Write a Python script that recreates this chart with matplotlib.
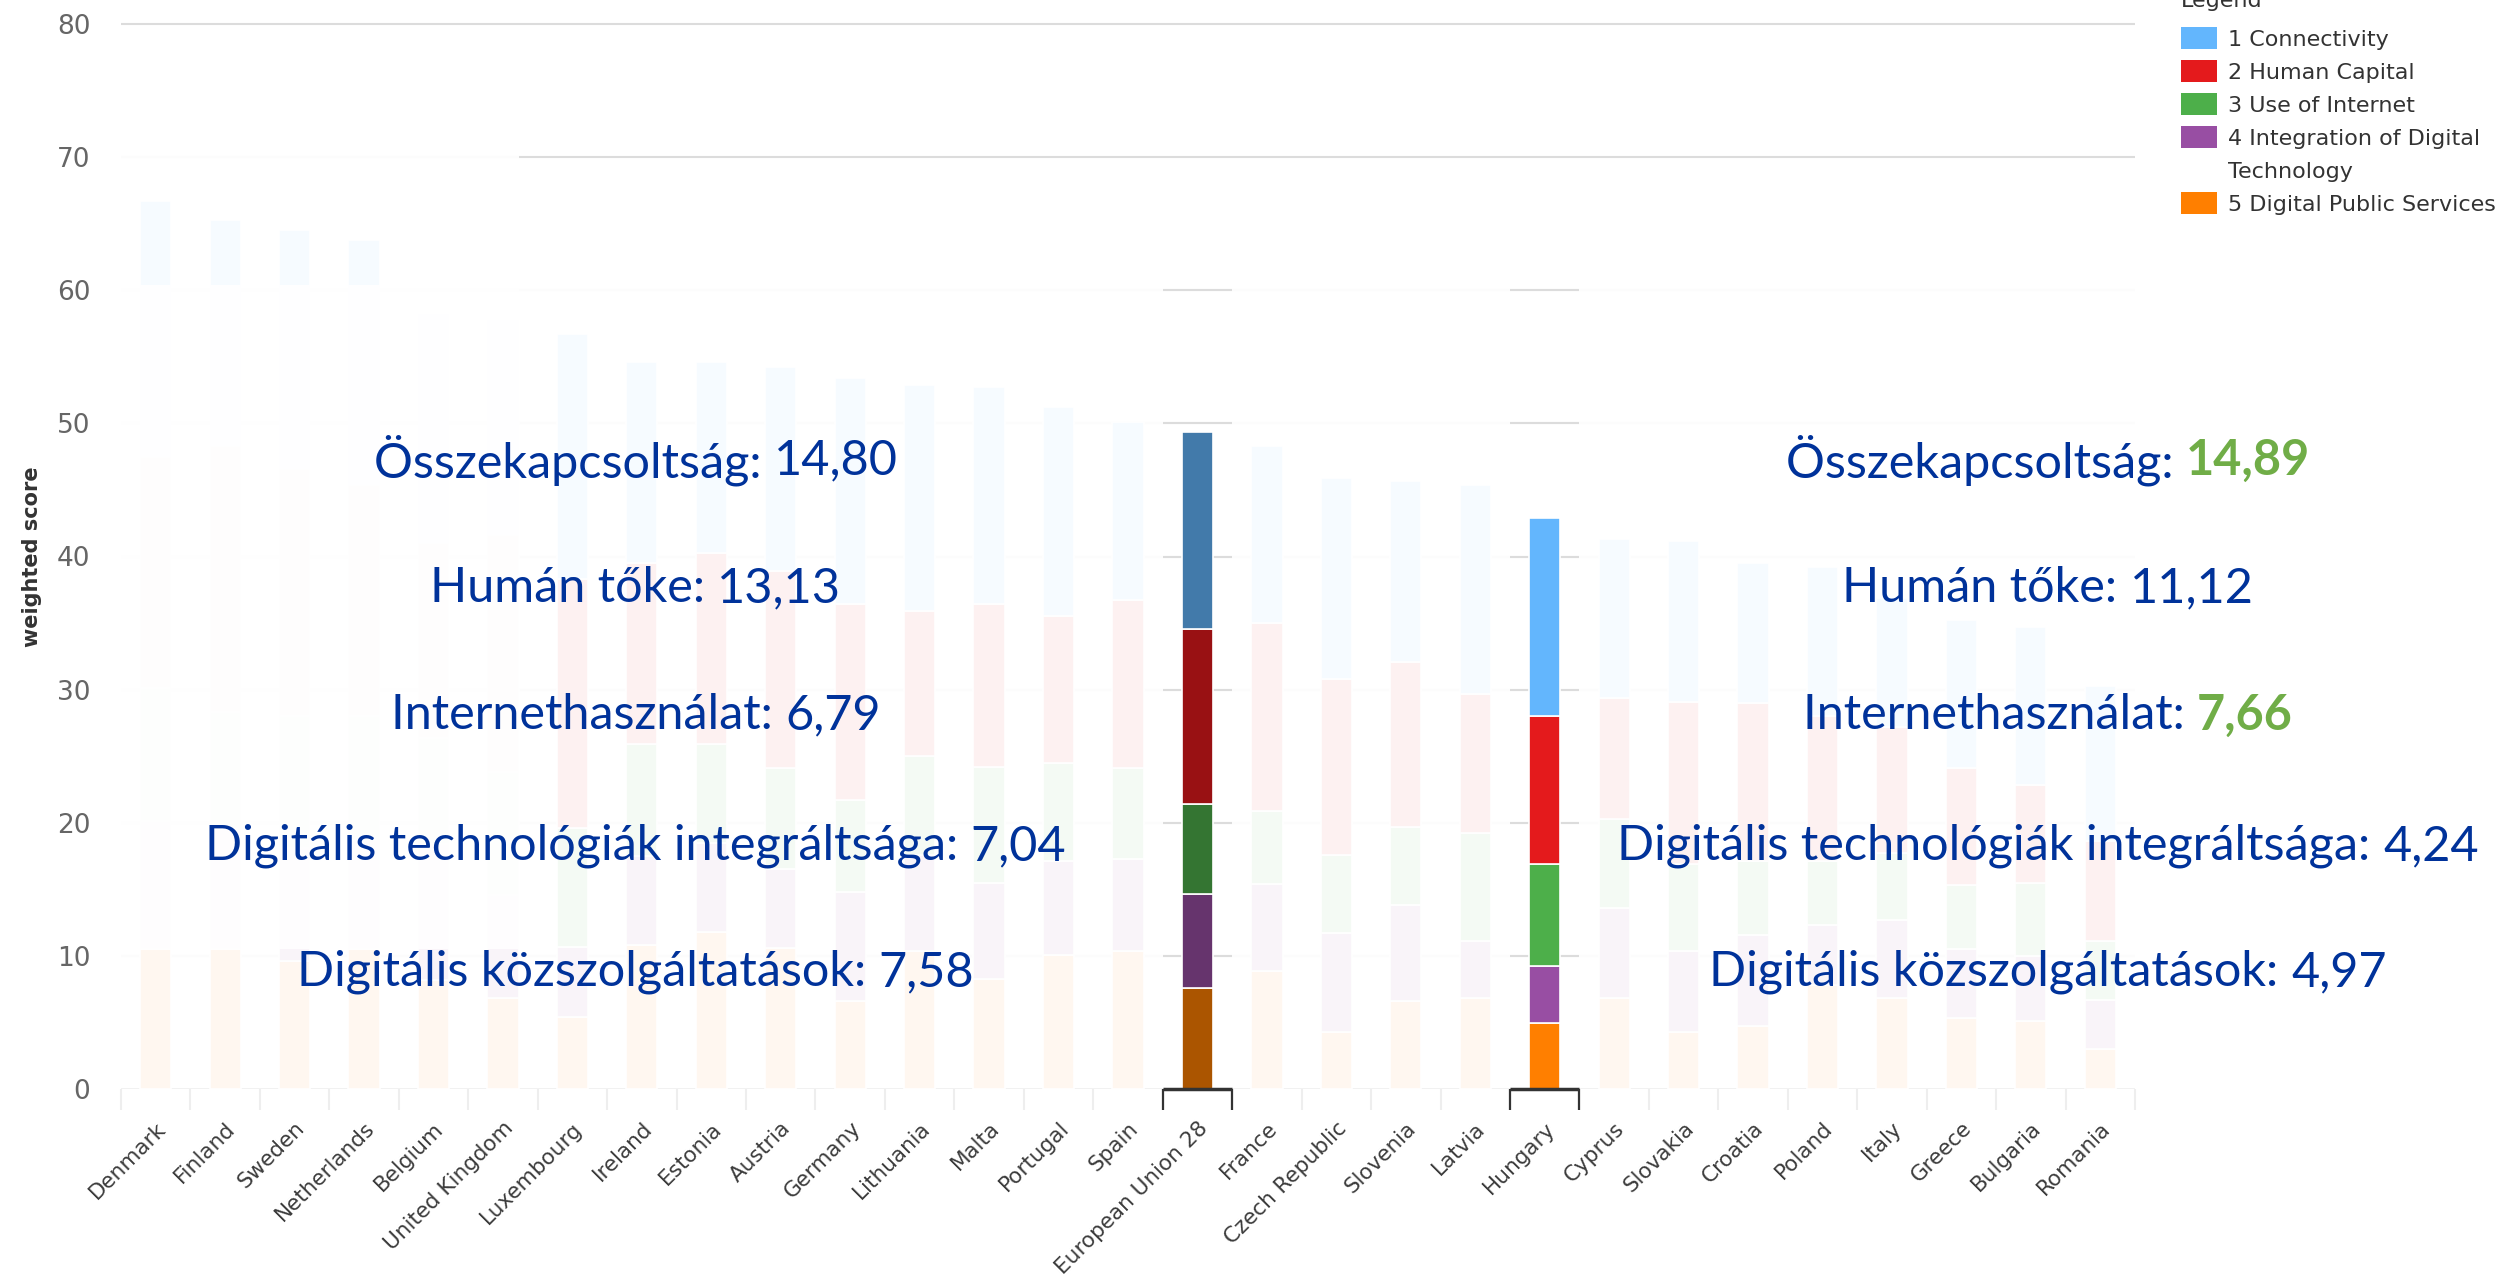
import matplotlib

matplotlib.use("Agg")
import matplotlib.pyplot as plt
import numpy as np
from matplotlib.colors import to_rgb
from matplotlib.patches import Patch, Rectangle
from matplotlib.transforms import ScaledTranslation

plt.rcParams["font.family"] = ["DejaVu Sans"]

COUNTRIES = ["Denmark", "Finland", "Sweden", "Netherlands", "Belgium", "United Kingdom",
             "Luxembourg", "Ireland", "Estonia", "Austria", "Germany", "Lithuania", "Malta",
             "Portugal", "Spain", "European Union 28", "France", "Czech Republic", "Slovenia",
             "Latvia", "Hungary", "Cyprus", "Slovakia", "Croatia", "Poland", "Italy", "Greece",
             "Bulgaria", "Romania"]

# weighted DESI sub-scores, one value per country
CONNECTIVITY = [19.2, 17.0, 17.9, 18.4, 17.2, 16.2, 18.4, 15.1, 14.3, 15.3, 17.0, 17.0, 16.3,
                15.7, 13.4, 14.80, 13.3, 15.1, 13.6, 15.7, 14.89, 11.9, 12.1, 10.5, 11.2, 9.7,
                11.1, 11.9, 11.7]
HUMAN_CAPITAL = [17.4, 20.0, 18.6, 17.4, 14.6, 17.8, 18.7, 13.6, 14.4, 14.8, 14.7, 10.9, 12.2,
                 11.0, 12.6, 13.13, 14.1, 13.2, 12.4, 10.5, 11.12, 9.1, 12.2, 11.9, 10.9, 9.5,
                 8.8, 7.3, 7.5]
USE_OF_INTERNET = [10.0, 8.8, 9.9, 9.3, 8.0, 9.2, 8.9, 8.4, 7.4, 7.6, 6.9, 7.4, 8.7, 7.4, 6.8,
                   6.79, 5.5, 5.9, 5.9, 8.1, 7.66, 6.7, 6.5, 5.5, 4.8, 5.0, 4.8, 5.5, 4.4]
INTEGRATION = [9.6, 9.0, 8.5, 8.2, 10.2, 7.8, 5.3, 6.7, 6.7, 5.9, 8.2, 7.2, 7.2, 7.0, 6.9,
               7.04, 6.5, 7.4, 7.2, 4.3, 4.24, 6.8, 6.1, 6.9, 4.5, 5.9, 5.2, 4.9, 3.7]
PUBLIC_SERVICES = [10.5, 10.5, 9.6, 10.5, 8.2, 6.8, 5.4, 10.8, 11.8, 10.6, 6.6, 10.4, 8.3, 10.1,
                   10.4, 7.58, 8.9, 4.3, 6.6, 6.8, 4.97, 6.8, 4.3, 4.7, 7.8, 6.8, 5.3, 5.1, 3.0]

# legend text; the 4th label wraps onto a second row, as in the original
LEGEND_LABELS = ["1 Connectivity", "2 Human Capital", "3 Use of Internet",
                 "4 Integration of Digital", "Technology", "5 Digital Public Services"]
HU_LABELS = ["Összekapcsoltság", "Humán tőke", "Internethasználat",
             "Digitális technológiák integráltsága", "Digitális közszolgáltatások"]

EU, HU = "European Union 28", "Hungary"
BASE = ["#63b6fd", "#e41a1c", "#4daf4a", "#984ea3", "#ff7f00"]
GRID = "#dcdcdc"
TXT_BLUE = "#00329a"
TXT_GREEN = "#70ad47"


def blend(c, a):
    r = np.array(to_rgb(c))
    return tuple(1 - a * (1 - r))


def shade(c, k):
    return tuple(np.array(to_rgb(c)) * k)


series = [CONNECTIVITY, HUMAN_CAPITAL, USE_OF_INTERNET, INTEGRATION, PUBLIC_SERVICES]
n = len(COUNTRIES)
x = np.arange(n)
i_eu, i_hu = COUNTRIES.index(EU), COUNTRIES.index(HU)

fig = plt.figure(figsize=(25.04, 12.88), dpi=100)
ax = fig.add_axes([121 / 2504, 1 - 1089 / 1288, 2014 / 2504, 1065 / 1288])
ax.set_xlim(-0.5, n - 0.5)
ax.set_ylim(0, 80)

# stack from the bottom: public services first, connectivity on top
bottom = np.zeros(n)
for vals, base in reversed(list(zip(series, BASE))):
    cols = [blend(base, 0.06)] * n
    cols[i_eu] = shade(base, 0.67)
    cols[i_hu] = base
    ax.bar(x, vals, 0.45, bottom=bottom, color=cols, edgecolor="white", linewidth=1.2, zorder=2)
    bottom += np.array(vals)

# pale mask over the top countries, as on the slide
ax.add_patch(Rectangle((-0.5, 10.5), 5.73, 49.9, facecolor="white", alpha=0.9,
                       edgecolor="none", zorder=3))

# grid: full at the top, dimmed elsewhere except on the two highlighted columns
faint = blend(GRID, 0.1)
ax.hlines(80, -0.5, n - 0.5, color=GRID, lw=1.5, zorder=1, clip_on=False)
ax.hlines(70, -0.5, 5.23, color=faint, lw=1.5, zorder=1)
ax.hlines(70, 5.23, n - 0.5, color=GRID, lw=1.5, zorder=1)
for v in range(10, 70, 10):
    ax.hlines(v, -0.5, n - 0.5, color=faint, lw=1.5, zorder=1)
    for i in (i_eu, i_hu):
        ax.hlines(v, i - 0.5, i + 0.5, color=GRID, lw=1.5, zorder=1)

ax.axhline(0, color="#f0f0f0", lw=2, zorder=1)
for i in (i_eu, i_hu):
    ax.hlines(0, i - 0.5, i + 0.5, color="#333333", lw=2.5, zorder=5, clip_on=False)
    ax.vlines([i - 0.5, i + 0.5], -0.02, 0, transform=ax.get_xaxis_transform(),
              color="#333333", lw=1.6, zorder=5, clip_on=False)

for s in ax.spines.values():
    s.set_visible(False)

ax.set_xticks(x, COUNTRIES, rotation=45, ha="right", va="top", rotation_mode="anchor",
              fontsize=15.5, color="#3c3c3c")
nudge = ScaledTranslation(0.07, 0, fig.dpi_scale_trans)
for lbl in ax.get_xticklabels():
    lbl.set_transform(lbl.get_transform() + nudge)
ax.set_xticks(np.arange(-0.5, n), minor=True)
ax.tick_params(axis="x", which="major", length=0, pad=21)
ax.tick_params(axis="x", which="minor", length=15, width=1.5, color="#eeeeee")
ax.set_yticks(range(0, 81, 10))
ax.tick_params(axis="y", length=0, pad=22, labelsize=19, labelcolor="#666666")
ax.set_ylabel("weighted score", fontsize=15, fontweight="bold", color="#333333")
ax.yaxis.set_label_coords(-0.039, 0.5)

fig.text(2181 / 2504, 1 - 7 / 1288, "Legend", ha="left", va="baseline", fontsize=16,
         color="#333333")
handles = [Patch(facecolor=c) for c in BASE]
handles.insert(4, Patch(facecolor="none", edgecolor="none"))
leg = fig.legend(handles, LEGEND_LABELS, loc="upper left",
                 bbox_to_anchor=(2181 / 2504, 1 - 27 / 1288), frameon=False,
                 fontsize=16, handlelength=1.62, handleheight=1.15, handletextpad=0.5,
                 labelspacing=0.47, borderpad=0, borderaxespad=0)
for t in leg.get_texts():
    t.set_color("#333333")

# EU and Hungary sub-scores written beside the chart
ROW_Y = [460, 588, 715, 846, 972]
parts = []
for col_x, idx, ref in ((635.5, i_eu, None), (2048, i_hu, i_eu)):
    for k, (lab, y) in enumerate(zip(HU_LABELS, ROW_Y)):
        val = series[k][idx]
        better = ref is not None and val > series[k][ref]
        t1 = fig.text(0, 1 - y / 1288, lab + ": ", ha="left", va="center", fontsize=35,
                      family="Lato", color=TXT_BLUE)
        t2 = ax.annotate(f"{val:.2f}".replace(".", ","), xy=(1, 0.5), xycoords=t1,
                         ha="left", va="center", fontsize=35, family="Lato",
                         color=TXT_GREEN if better else TXT_BLUE,
                         fontweight="bold" if better else "normal")
        parts.append((col_x, t1, t2))

fig.canvas.draw()
r = fig.canvas.get_renderer()
for col_x, t1, t2 in parts:
    w = t1.get_window_extent(r).width + t2.get_window_extent(r).width
    t1.set_x((col_x - w / 2) / 2504)

fig.savefig("out.png", dpi=100)
